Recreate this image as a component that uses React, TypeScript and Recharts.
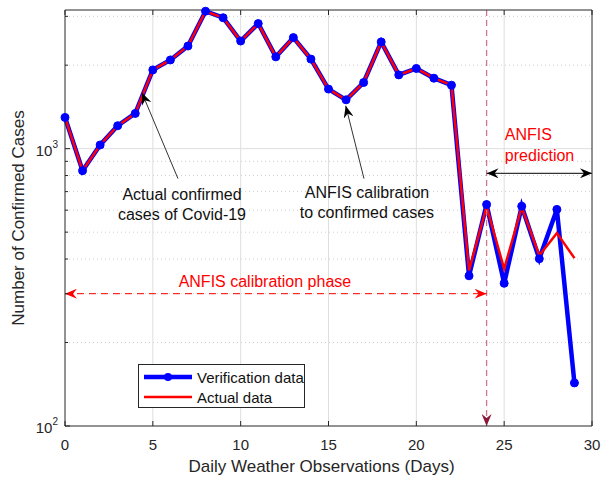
import React from 'react';
import {
  CartesianGrid,
  Legend,
  Line,
  LineChart,
  ReferenceDot,
  ReferenceLine,
  XAxis,
  YAxis,
} from 'recharts';

const days = [
  0, 1, 2, 3, 4, 5, 6, 7, 8, 9, 10, 11, 12, 13, 14, 15, 16, 17, 18, 19, 20, 21, 22, 23, 24, 25,
  26, 27, 28, 29,
];

const verification = [
  1296, 833, 1031, 1210, 1340, 1923, 2089, 2345, 3130, 2965, 2444, 2825, 2143, 2514, 2103, 1640,
  1500, 1732, 2426, 1845, 1946, 1795, 1694, 348, 629, 327, 620, 401, 604, 143,
];

const actual = [
  1296, 833, 1031, 1210, 1340, 1923, 2089, 2345, 3130, 2965, 2444, 2825, 2143, 2514, 2103, 1640,
  1500, 1732, 2426, 1845, 1946, 1795, 1694, 364, 618, 369, 615, 412, 496, 403,
];

const xTicks = [0, 5, 10, 15, 20, 25, 30];
const yTicks = [100, 200, 300, 400, 500, 600, 700, 800, 900, 1000, 2000, 3000];
const yMinor = [200, 300, 400, 500, 600, 700, 800, 900, 2000, 3000];
const yLabels: Record<number, string> = { 100: '2', 1000: '3' };

const Y_MIN = 100;
const Y_MAX = 3162;
const SPLIT_DAY = 24;

const AXIS = '#262626';
const FONT = '"Liberation Sans", Arial, Helvetica, sans-serif';

const chartData = days.map((d, i) => ({
  day: d,
  verification: verification[i],
  actual: actual[i],
}));

const LeftTick = (props: any) => {
  const { x, y, payload } = props;
  const exp = yLabels[payload.value];
  return (
    <g>
      <line x1={x} y1={y} x2={x + (exp ? 5 : 3)} y2={y} stroke={AXIS} />
      {exp && (
        <text x={x - 7} y={y + 7} textAnchor="end" fontSize={15} fill={AXIS} fontFamily={FONT}>
          10
          <tspan dy={-8} fontSize={10}>
            {exp}
          </tspan>
        </text>
      )}
    </g>
  );
};

const RightTick = (props: any) => {
  const { x, y, payload } = props;
  const major = !!yLabels[payload.value];
  return <line x1={x} y1={y} x2={x - (major ? 5 : 3)} y2={y} stroke={AXIS} />;
};

const BottomTick = (props: any) => {
  const { x, y, payload } = props;
  return (
    <g>
      <line x1={x} y1={y} x2={x} y2={y - 5} stroke={AXIS} />
      <text x={x} y={y + 24} textAnchor="middle" fontSize={15} fill={AXIS} fontFamily={FONT}>
        {payload.value}
      </text>
    </g>
  );
};

const TopTick = (props: any) => {
  const { x, y } = props;
  return <line x1={x} y1={y} x2={x} y2={y + 5} stroke={AXIS} />;
};

const arrowShape =
  (color: string, start: string | null, end: string | null, dash?: string, width = 1) =>
  (p: any) => (
    <line
      x1={p.x1}
      y1={p.y1}
      x2={p.x2}
      y2={p.y2}
      stroke={color}
      strokeWidth={width}
      strokeDasharray={dash}
      markerStart={start ? `url(#${start})` : undefined}
      markerEnd={end ? `url(#${end})` : undefined}
    />
  );

const textShape =
  (lines: string[], color: string, anchor: 'middle' | 'start' = 'middle', gap = 20) =>
  (p: any) => (
    <text
      x={p.cx}
      y={p.cy}
      textAnchor={anchor}
      dominantBaseline="central"
      fontSize={16}
      fill={color}
      fontFamily={FONT}
    >
      {lines.map((l, i) => (
        <tspan key={l} x={p.cx} dy={i === 0 ? 0 : gap}>
          {l}
        </tspan>
      ))}
    </text>
  );

const LegendBox = () => (
  <div
    style={{
      width: 165,
      height: 42,
      border: `1px solid ${AXIS}`,
      background: '#fff',
      fontFamily: FONT,
      fontSize: 15,
      color: '#111',
      boxSizing: 'content-box',
    }}
  >
    <svg width={165} height={42} style={{ display: 'block' }}>
      <line x1={5} y1={12} x2={53} y2={12} stroke="#0000ff" strokeWidth={4.5} />
      <circle cx={29} cy={12} r={4} fill="#0000ff" />
      <text x={58} y={12} dominantBaseline="central" fontSize={15} fill="#111" fontFamily={FONT}>
        Verification data
      </text>
      <line x1={5} y1={32} x2={53} y2={32} stroke="#ff0000" strokeWidth={2.5} />
      <text x={58} y={32} dominantBaseline="central" fontSize={15} fill="#111" fontFamily={FONT}>
        Actual data
      </text>
    </svg>
  </div>
);

export default function App() {
  return (
    <div style={{ position: 'absolute', left: 0, top: 0, width: 601, height: 479, background: '#fff' }}>
      <svg width={0} height={0} style={{ position: 'absolute' }}>
        <defs>
          <marker
            id="headBlack"
            viewBox="0 0 12 10"
            refX={12}
            refY={5}
            markerWidth={12}
            markerHeight={10}
            markerUnits="userSpaceOnUse"
            orient="auto-start-reverse"
          >
            <path d="M0,0 L12,5 L0,10 L4,5 Z" fill="#000" />
          </marker>
          <marker
            id="headRed"
            viewBox="0 0 12 10"
            refX={12}
            refY={5}
            markerWidth={12}
            markerHeight={10}
            markerUnits="userSpaceOnUse"
            orient="auto-start-reverse"
          >
            <path d="M0,0 L12,5 L0,10 L4,5 Z" fill="#ff0000" />
          </marker>
          <marker
            id="headDark"
            viewBox="0 0 12 10"
            refX={12}
            refY={5}
            markerWidth={12}
            markerHeight={10}
            markerUnits="userSpaceOnUse"
            orient="auto-start-reverse"
          >
            <path d="M0,0 L12,5 L0,10 L4,5 Z" fill="#8b1a3a" />
          </marker>
        </defs>
      </svg>
      <LineChart
        width={601}
        height={479}
        data={chartData}
        margin={{ top: 0, right: 0, bottom: 0, left: 0 }}
        style={{ fontFamily: FONT }}
      >
        <CartesianGrid
          horizontalValues={yMinor}
          vertical={false}
          stroke="#cfcfcf"
          strokeDasharray="1 3"
          yAxisId="left"
        />
        <CartesianGrid
          horizontalValues={[1000]}
          verticalValues={[5, 10, 15, 20, 25]}
          stroke="#dedede"
          yAxisId="left"
        />
        <XAxis
          dataKey="day"
          type="number"
          domain={[0, 30]}
          ticks={xTicks}
          height={53}
          stroke={AXIS}
          tickSize={0}
          tickMargin={0}
          tick={BottomTick}
          label={(p: any) => (
            <text
              x={p.viewBox.x + p.viewBox.width / 2 - 7}
              y={p.viewBox.y + 46}
              textAnchor="middle"
              fontSize={17}
              fill={AXIS}
              fontFamily={FONT}
            >
              Daily Weather Observations (Days)
            </text>
          )}
        />
        <XAxis
          xAxisId="top"
          orientation="top"
          dataKey="day"
          type="number"
          domain={[0, 30]}
          ticks={xTicks}
          height={10}
          stroke={AXIS}
          tickSize={0}
          tickMargin={0}
          tick={TopTick}
        />
        <YAxis
          yAxisId="left"
          scale="log"
          domain={[Y_MIN, Y_MAX]}
          ticks={yTicks}
          width={65}
          stroke={AXIS}
          tickSize={0}
          tickMargin={0}
          tick={LeftTick}
          interval={0}
          label={(p: any) => {
            const cx = 24;
            const cy = p.viewBox.y + p.viewBox.height / 2;
            return (
              <text
                x={cx}
                y={cy}
                transform={`rotate(-90 ${cx} ${cy})`}
                textAnchor="middle"
                fontSize={17}
                fill={AXIS}
                fontFamily={FONT}
              >
                Number of Confirmed Cases
              </text>
            );
          }}
        />
        <YAxis
          yAxisId="right"
          orientation="right"
          scale="log"
          domain={[Y_MIN, Y_MAX]}
          ticks={yTicks}
          width={9}
          stroke={AXIS}
          tickSize={0}
          tickMargin={0}
          tick={RightTick}
          interval={0}
        />
        <Legend
          layout="vertical"
          align="center"
          verticalAlign="middle"
          wrapperStyle={{ left: 138, top: 364, width: 167, height: 44 }}
          content={LegendBox}
        />
        <Line
          yAxisId="left"
          dataKey="verification"
          stroke="#0000ff"
          strokeWidth={4.5}
          dot={{ r: 4, fill: '#0000ff', stroke: '#0000ff', strokeWidth: 1 }}
          isAnimationActive={false}
        />
        <Line
          yAxisId="left"
          dataKey="actual"
          stroke="#ff0000"
          strokeWidth={2.5}
          dot={false}
          isAnimationActive={false}
        />
        <ReferenceLine
          yAxisId="left"
          segment={[
            { x: SPLIT_DAY, y: Y_MAX },
            { x: SPLIT_DAY, y: Y_MIN },
          ]}
          shape={arrowShape('#c9788a', null, 'headDark', '6 4', 1.3)}
        />
        <ReferenceLine
          yAxisId="left"
          segment={[
            { x: 0, y: 300 },
            { x: SPLIT_DAY, y: 300 },
          ]}
          shape={arrowShape('#ff0000', 'headRed', 'headRed', '7 5', 1)}
        />
        <ReferenceLine
          yAxisId="left"
          segment={[
            { x: SPLIT_DAY, y: 815 },
            { x: 30, y: 815 },
          ]}
          shape={arrowShape('#333', 'headBlack', 'headBlack', undefined, 1.2)}
        />
        <ReferenceLine
          yAxisId="left"
          segment={[
            { x: 6.43, y: 780 },
            { x: 4.38, y: 1590 },
          ]}
          shape={arrowShape('#333', null, 'headBlack', undefined, 1)}
        />
        <ReferenceLine
          yAxisId="left"
          segment={[
            { x: 17.02, y: 780 },
            { x: 15.98, y: 1428 },
          ]}
          shape={arrowShape('#333', null, 'headBlack', undefined, 1)}
        />
        <ReferenceDot
          yAxisId="left"
          x={6.66}
          y={689}
          shape={textShape(['Actual confirmed', 'cases of Covid-19'], '#111')}
        />
        <ReferenceDot
          yAxisId="left"
          x={17.19}
          y={697}
          shape={textShape(['ANFIS calibration', 'to confirmed cases'], '#111')}
        />
        <ReferenceDot
          yAxisId="left"
          x={11.38}
          y={332}
          shape={textShape(['ANFIS calibration phase'], '#ff0000')}
        />
        <ReferenceDot
          yAxisId="left"
          x={25.04}
          y={1132}
          shape={textShape(['ANFIS', 'prediction'], '#ff0000', 'start', 21)}
        />
      </LineChart>
    </div>
  );
}
